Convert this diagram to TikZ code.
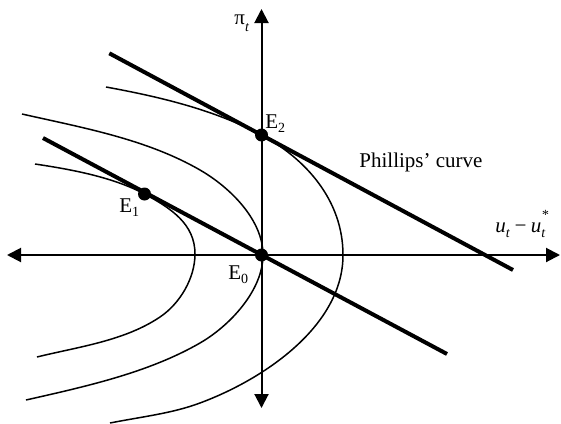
\documentclass[tikz,border=0pt]{standalone}
\usepackage{fontspec}
\setmainfont{Liberation Serif}
\usetikzlibrary{arrows.meta}
\newcommand\mylsub[2][0.25em]{\raisebox{-#1}{\fontsize{7}{8}\selectfont #2}}
\newcommand\mysubsup[2]{\makebox[0pt][l]{\raisebox{-0.25em}{\fontsize{7}{8}\selectfont #1}}\raisebox{0.6em}{\fontsize{7}{8}\selectfont #2}}
\begin{document}
\begin{tikzpicture}[x=0.5pt,y=-0.5pt,
  axisline/.style={line width=1pt,{Triangle[length=7pt,width=7pt]}-{Triangle[length=7pt,width=7pt]}},
  phline/.style={line width=2pt},
  lossline/.style={line width=0.75pt},
  edot/.style={circle,fill=black,inner sep=0pt,minimum size=6.5pt},
  lbl/.style={anchor=base west,inner sep=0pt,font=\fontsize{10.5}{12}\selectfont}]
\useasboundingbox (0,0) rectangle (561,423);
% key points
\coordinate (pE0) at (261.5,255);
\coordinate (pE1) at (144.5,194);
\coordinate (pE2) at (261.5,135);
% indifference curves
\draw[lossline] (35,164) .. controls (71,169.4) and (112.8,177) .. (pE1)
  .. controls (171,208.2) and (195,224) .. (195,254)
  .. controls (195,278) and (180,303.6) .. (160,317)
  .. controls (124.3,341) and (78.7,346.7) .. (37,357);
\draw[lossline] (22,114) .. controls (82,127.6) and (146.4,139) .. (200,170)
  .. controls (230.3,187.5) and (263,220) .. (263,255)
  .. controls (263,290) and (230.3,325.5) .. (200,343)
  .. controls (148,373) and (84.2,386.8) .. (26,400);
\draw[lossline] (106,87) .. controls (159,96.7) and (213.9,109.5) .. (pE2)
  .. controls (305.5,158.7) and (343,200) .. (343,255)
  .. controls (343,325) and (265.8,378.5) .. (200,403)
  .. controls (171.8,413.5) and (142.4,416.6) .. (110,423);
% Phillips curves
\coordinate (La) at (109.3,53.3);
\coordinate (Lb) at (513,270);
\coordinate (Ma) at (43,138);
\coordinate (Mb) at (447,354);
\draw[phline] (La) -- (Lb);
\draw[phline] (Ma) -- (Mb);
% axes
\coordinate (yb) at (261.5,408);
\coordinate (yt) at (261.5,9);
\coordinate (xl) at (7,255);
\coordinate (xr) at (560,255);
\draw[axisline] (yb) -- (yt);
\draw[axisline] (xl) -- (xr);
% equilibria
\node[edot] (E0) at (pE0) {};
\node[edot] (E1) at (pE1) {};
\node[edot] (E2) at (pE2) {};
% labels
\node[lbl] (tE0) at (228,279) {E\mylsub[0.2em]{0}};
\node[lbl] (tE1) at (119,212) {E\mylsub[0.2em]{1}};
\node[lbl] (tE2) at (265,128) {E\mylsub[0.2em]{2}};
\node[lbl] (tph) at (359,167) {Phillips’ curve};
\node[lbl] (tpi) at (234,25) {π\mylsub[0.3em]{\itshape t}};
\node[lbl] (tu) at (495,232) {\itshape u\mylsub{t}\,−\,u\mysubsup{t}{*}};
\end{tikzpicture}
\end{document}
